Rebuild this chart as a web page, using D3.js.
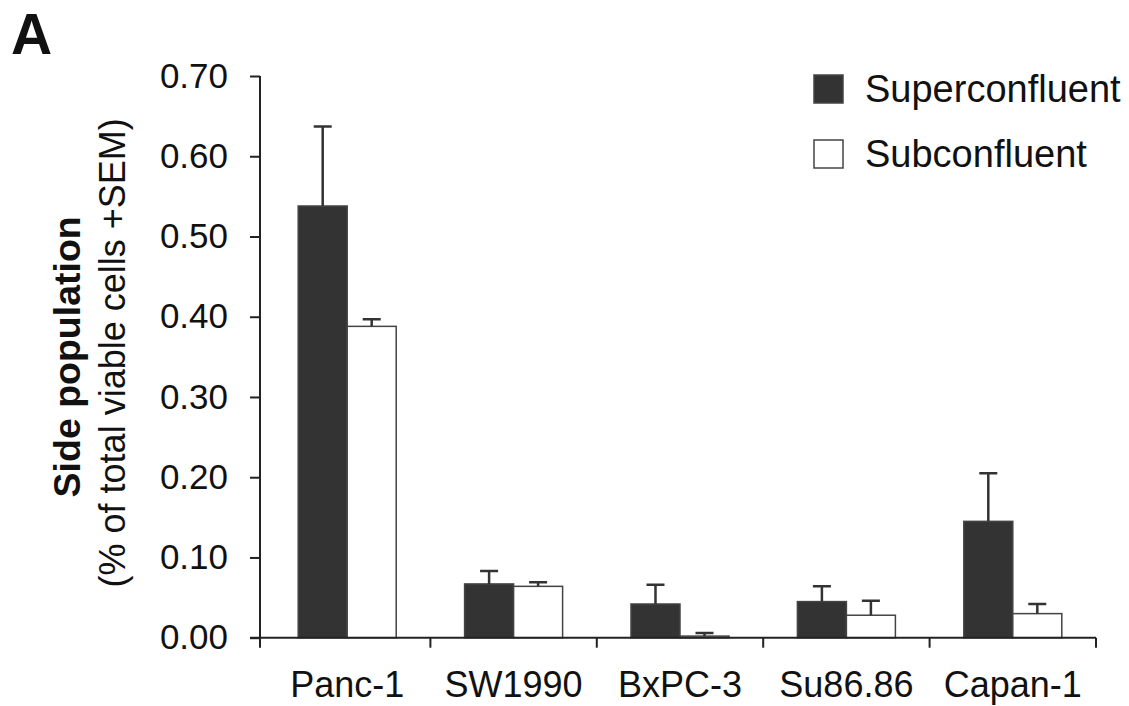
<!DOCTYPE html>
<html>
<head>
<meta charset="utf-8">
<script src="https://cdn.jsdelivr.net/npm/d3@7"></script>
<style>
  body { margin: 0; background: #fff; }
  svg text { font-family: "Liberation Sans", Arial, sans-serif; fill: #111; }
</style>
</head>
<body>
<div id="chart"></div>
<script>
// data
const cellLines = ["Panc-1", "SW1990", "BxPC-3", "Su86.86", "Capan-1"];
const seriesNames = ["Superconfluent", "Subconfluent"];
const superMean = [0.538, 0.067, 0.042, 0.045, 0.145];
const superSem = [0.099, 0.016, 0.024, 0.019, 0.060];
const subMean = [0.388, 0.064, 0.002, 0.028, 0.030];
const subSem = [0.009, 0.005, 0.004, 0.018, 0.012];
const yTicks = [0, 0.1, 0.2, 0.3, 0.4, 0.5, 0.6, 0.7];

const width = 1129, height = 706;
const svg = d3.select("#chart").append("svg").attr("width", width).attr("height", height);

const x = d3.scaleBand().domain(cellLines).range([264, 1096]).padding(0);
const x1 = d3.scaleBand().domain(seriesNames).range([x.bandwidth() / 2 - 49, x.bandwidth() / 2 + 49]);
const y = d3.scaleLinear().domain([0, 0.7]).range([637.7, 76]);
const fills = { Superconfluent: "#333333", Subconfluent: "#ffffff" };

const rows = cellLines.map((c, i) => ({
  cat: c,
  vals: [
    { s: "Superconfluent", v: superMean[i], e: superSem[i] },
    { s: "Subconfluent", v: subMean[i], e: subSem[i] },
  ],
}));

// bars
const groups = svg.selectAll(".grp").data(rows).join("g")
  .attr("class", "grp")
  .attr("transform", (d) => `translate(${x(d.cat)},0)`);

groups.selectAll("rect").data((d) => d.vals).join("rect")
  .attr("x", (d) => x1(d.s))
  .attr("y", (d) => y(d.v))
  .attr("width", x1.bandwidth())
  .attr("height", (d) => y(0) - y(d.v))
  .attr("fill", (d) => fills[d.s])
  .attr("stroke", "#444")
  .attr("stroke-width", 1.5);

// error bars (upper only)
groups.selectAll(".err").data((d) => d.vals).join("path")
  .attr("class", "err")
  .attr("fill", "none")
  .attr("stroke", "#333")
  .attr("stroke-width", 2.5)
  .attr("d", (d) => {
    const cx = x1(d.s) + x1.bandwidth() / 2;
    const top = y(d.v + d.e);
    return `M${cx},${y(d.v)}V${top}M${cx - 9},${top}H${cx + 9}`;
  });

// y axis
const yAxis = svg.append("g")
  .attr("transform", "translate(260,0)")
  .call(d3.axisLeft(y).tickValues(yTicks).tickFormat(d3.format(".2f")).tickSize(10).tickPadding(22).tickSizeOuter(0));
yAxis.select(".domain").attr("stroke", "#222").attr("stroke-width", 2).attr("d", `M0,${y(0.7)}V${y(0) + 10}`);
yAxis.selectAll(".tick line").attr("stroke", "#222").attr("stroke-width", 2);
yAxis.selectAll(".tick text").attr("font-size", 35).attr("font-family", "Liberation Sans, Arial, sans-serif").attr("fill", "#111");

// x axis: baseline with ticks between categories
const xEnd = x.range()[1];
svg.append("line")
  .attr("x1", 250).attr("x2", xEnd)
  .attr("y1", y(0)).attr("y2", y(0))
  .attr("stroke", "#222").attr("stroke-width", 2);
svg.selectAll(".xtick").data(cellLines.slice(1).map((c) => x(c)).concat([xEnd])).join("line")
  .attr("class", "xtick")
  .attr("x1", (d) => d).attr("x2", (d) => d)
  .attr("y1", y(0)).attr("y2", y(0) + 10)
  .attr("stroke", "#222").attr("stroke-width", 2);
svg.selectAll(".xlab").data(cellLines).join("text")
  .attr("class", "xlab")
  .attr("x", (d) => x(d) + x.bandwidth() / 2)
  .attr("y", 697)
  .attr("text-anchor", "middle")
  .attr("font-size", 36)
  .text((d) => d);

// axis titles
svg.append("text")
  .attr("transform", `translate(80,${y(0.35)}) rotate(-90)`)
  .attr("text-anchor", "middle")
  .attr("font-size", 37.5)
  .attr("font-weight", "bold")
  .text("Side population");
svg.append("text")
  .attr("transform", `translate(125,${y(0.355)}) rotate(-90)`)
  .attr("text-anchor", "middle")
  .attr("font-size", 36)
  .text("(% of total viable cells +SEM)");

// panel letter
svg.append("text")
  .attr("x", 11).attr("y", 54)
  .attr("font-size", 57)
  .attr("font-weight", "bold")
  .text("A");

// legend
const legend = svg.selectAll(".leg").data(seriesNames).join("g")
  .attr("class", "leg")
  .attr("transform", (d, i) => `translate(814,${75 + i * 65})`);
legend.append("rect")
  .attr("width", 29).attr("height", 28)
  .attr("fill", (d) => fills[d])
  .attr("stroke", "#444").attr("stroke-width", 1.5);
legend.append("text")
  .attr("x", 51).attr("y", 27)
  .attr("font-size", 38)
  .text((d) => d);
</script>
</body>
</html>
